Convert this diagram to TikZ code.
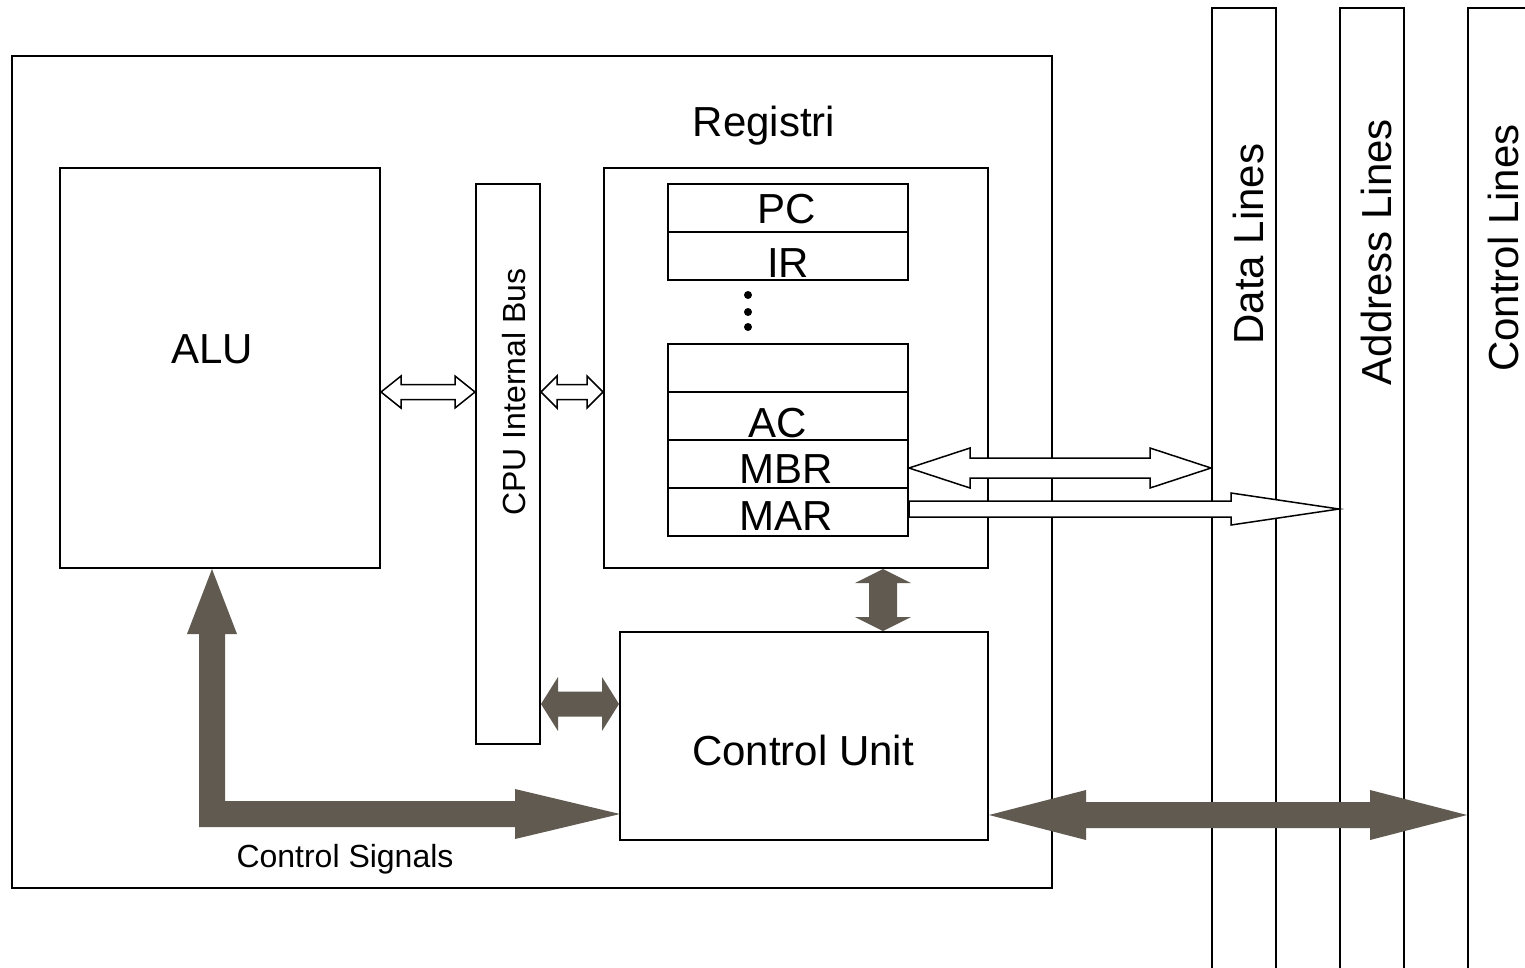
\documentclass[tikz,border=0pt]{standalone}
\usepackage{fontspec}
\setmainfont{Liberation Sans}
\usetikzlibrary{calc}
\definecolor{sig}{RGB}{96,90,80}
% horizontal double arrow: style, left tip, right tip, half shaft, half head, head length
\newcommand\hdbl[6]{\path[#1] let \p1=#2, \p2=#3 in
  (\x1,\y1) -- (\x1+#6,\y1+#5) -- (\x1+#6,\y1+#4) -- (\x2-#6,\y1+#4) -- (\x2-#6,\y1+#5)
  -- (\x2,\y1) -- (\x2-#6,\y1-#5) -- (\x2-#6,\y1-#4) -- (\x1+#6,\y1-#4) -- (\x1+#6,\y1-#5) -- cycle;}
% vertical double arrow: style, top tip, bottom tip, half shaft, half head, head length
\newcommand\vdbl[6]{\path[#1] let \p1=#2, \p2=#3 in
  (\x1,\y1) -- (\x1+#5,\y1-#6) -- (\x1+#4,\y1-#6) -- (\x1+#4,\y2+#6) -- (\x1+#5,\y2+#6)
  -- (\x1,\y2) -- (\x1-#5,\y2+#6) -- (\x1-#4,\y2+#6) -- (\x1-#4,\y1-#6) -- (\x1-#5,\y1-#6) -- cycle;}
% single right arrow: style, left end, tip, half shaft, half head, head length
\newcommand\hsgl[6]{\path[#1] let \p1=#2, \p2=#3 in
  (\x1,\y1+#4) -- (\x2-#6,\y1+#4) -- (\x2-#6,\y1+#5) -- (\x2,\y1) -- (\x2-#6,\y1-#5)
  -- (\x2-#6,\y1-#4) -- (\x1,\y1-#4) -- cycle;}
\tikzset{
  box/.style={draw, line width=2pt, inner sep=0pt},
  cell/.style={box, minimum width=240pt, minimum height=48pt},
  bus/.style={box, minimum width=64pt, minimum height=1000pt},
  big/.style={font=\fontsize{42}{50}\selectfont, inner sep=0pt, anchor=base},
  small/.style={font=\fontsize{32}{38}\selectfont, inner sep=0pt, anchor=base},
  hollow/.style={draw=black, fill=white, line width=1.5pt, line join=miter},
  solid/.style={fill=sig},
}
\begin{document}
\begin{tikzpicture}[x=1pt,y=-1pt]
\clip (0,0) rectangle (1525,967);
\fill[white] (0,0) rectangle (1525,967);
% boxes
\node[box, minimum width=1040pt, minimum height=832pt] (cpu) at (532,472) {};
\node[box, minimum width=320pt, minimum height=400pt] (alu) at (220,368) {};
\node[box, minimum width=64pt, minimum height=560pt] (ibus) at (508,464) {};
\node[box, minimum width=384pt, minimum height=400pt] (reg) at (796,368) {};
\node[box, minimum width=368pt, minimum height=208pt] (cu) at (804,736) {};
\node[cell] (pc) at (788,208) {};
\node[cell] (ir) at (788,256) {};
\node[cell] (ex) at (788,368) {};
\node[cell] (ac) at (788,416) {};
\node[cell] (mbr) at (788,464) {};
\node[cell] (mar) at (788,512) {};
\node[bus] (data) at (1244,508) {};
\node[bus] (addr) at (1372,508) {};
\node[bus] (ctrl) at (1500,508) {};
% texts
\node[big] (alut) at (212,363) {ALU};
\node[big] (regt) at (764,136) {Registri};
\node[big] (cut) at (803,765) {Control Unit};
\node[small] (cst) at (345,867) {Control Signals};
\node[small, rotate=90] (ibust) at (525,392) {CPU Internal Bus};
\node[big, rotate=90] (datat) at (1263,244) {Data Lines};
\node[big, rotate=90] (addrt) at (1391,252) {Address Lines};
\node[big, rotate=90] (ctrlt) at (1518,248) {Control Lines};
\node[big] (pct) at (787,223) {PC};
\node[big] (irt) at (788,277) {IR};
\node[big] (act) at (778,437) {AC};
\node[big] (mbrt) at (786,483) {MBR};
\node[big] (mart) at (786,530) {MAR};
% dots
\fill (748,295) circle (4pt) (748,312) circle (4pt) (748,327) circle (4pt);
% hollow arrows
\coordinate (a1) at ($(alu.east)+(0,24)$);
\coordinate (a2) at (a1 -| ibus.west);
\hdbl{hollow}{(a1)}{(a2)}{7.5pt}{16pt}{20pt}
\coordinate (b1) at (ibus.east |- a1);
\coordinate (b2) at (a1 -| reg.west);
\hdbl{hollow}{(b1)}{(b2)}{7.5pt}{16pt}{16pt}
\coordinate (m1) at ($(mbr.east)+(0,4)$);
\coordinate (m2) at (m1 -| data.west);
\hdbl{hollow}{(m1)}{(m2)}{10pt}{20pt}{61pt}
\coordinate (r1) at ($(mar.east)+(0,-3)$);
\coordinate (r2) at (r1 -| addr.west);
\hsgl{hollow}{(r1)}{(r2)}{8pt}{16pt}{108pt}
% solid arrows
\coordinate (c1) at ($(ibus.east)+(0,240)$);
\coordinate (c2) at (c1 -| cu.west);
\hdbl{solid}{(c1)}{(c2)}{12.5pt}{27pt}{17pt}
\coordinate (v1) at ($(reg.south)+(87,0)$);
\coordinate (v2) at (v1 |- cu.north);
\vdbl{solid}{(v1)}{(v2)}{14pt}{28pt}{14pt}
\coordinate (k1) at ($(cu.east)+(0,79)$);
\coordinate (k2) at (k1 -| ctrl.west);
\hdbl{solid}{(k1)}{(k2)}{13pt}{25pt}{97pt}
\coordinate (tip) at ($(alu.south)+(-8,0)$);
\fill[sig] (tip) -- ++(25,65) -- ++(-12,0) -- ++(0,167) -- ++(290,0) -- ++(0,-12)
  -- ++(105,25) -- ++(-105,25) -- ++(0,-12) -- ++(-316,0) -- ++(0,-193) -- ++(-12,0) -- cycle;
\end{tikzpicture}
\end{document}
